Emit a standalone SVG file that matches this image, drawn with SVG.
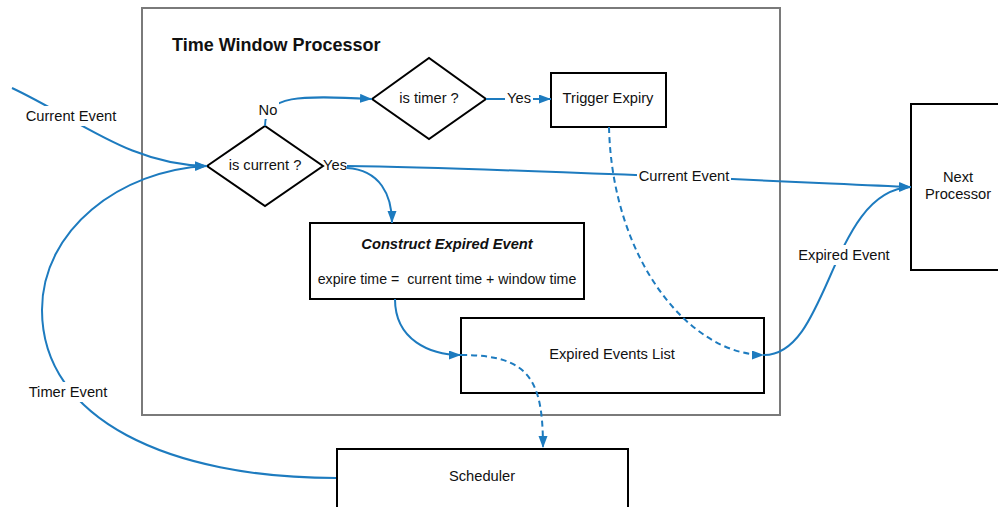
<svg xmlns="http://www.w3.org/2000/svg" width="998" height="507" viewBox="0 0 998 507">
  <style>
    .frame { fill: none; stroke: #7a7a7a; stroke-width: 2; }
    .box { fill: #ffffff; stroke: #000000; stroke-width: 2; }
    .flow { fill: none; stroke: #1d7bbf; stroke-width: 2; }
    .dash { stroke-dasharray: 6 4; }
    .lbl-bg { fill: #ffffff; }
    text { font-family: "Liberation Sans", Arial, sans-serif; font-size: 14.7px; fill: #111111; text-anchor: middle; dominant-baseline: central; }
    .title { font-size: 18px; font-weight: bold; text-anchor: start; }
    .bi { font-weight: bold; font-style: italic; }
    .pre { white-space: pre; font-size: 14.2px; }
  </style>
  <defs>
    <marker id="arrow" markerUnits="userSpaceOnUse" markerWidth="13" markerHeight="10" refX="12" refY="4.5" orient="auto">
      <path d="M0,0 L12,4.5 L0,9 z" fill="#1d7bbf"/>
    </marker>
  </defs>

  <rect width="998" height="507" fill="#ffffff"/>

  <!-- processor frame -->
  <g id="time-window-processor">
    <rect class="frame" x="142" y="8" width="638" height="407"/>
    <text class="title" x="172" y="45">Time Window Processor</text>
  </g>

  <g id="is-current">
    <polygon class="box" points="207,166 265,126 323,166 265,206"/>
    <text x="265" y="165">is current ?</text>
  </g>

  <g id="is-timer">
    <polygon class="box" points="372,99 429,58 486,99 429,139"/>
    <text x="429" y="98">is timer ?</text>
  </g>

  <g id="trigger-expiry">
    <rect class="box" x="551" y="73" width="115" height="54"/>
    <text x="608" y="98">Trigger Expiry</text>
  </g>

  <g id="construct-expired-event">
    <rect class="box" x="310" y="223" width="274" height="76"/>
    <text class="bi" x="447" y="244">Construct Expired Event</text>
    <text class="pre" x="447" y="279">expire time =  current time + window time</text>
  </g>

  <g id="expired-events-list">
    <rect class="box" x="461" y="318" width="303" height="75"/>
    <text x="612" y="354">Expired Events List</text>
  </g>

  <g id="next-processor">
    <rect class="box" x="911" y="104" width="100" height="166"/>
    <text x="958" y="177">Next</text>
    <text x="958" y="194">Processor</text>
  </g>

  <g id="scheduler">
    <rect class="box" x="337" y="449" width="291" height="70"/>
    <text x="482" y="476">Scheduler</text>
  </g>

  <!-- connectors -->
  <g id="connectors">
    <path class="flow" d="M12,88 C80,120 130,165 207,166" marker-end="url(#arrow)"/>
    <path class="flow" d="M336,478 C170,478 42,420 42,310 C42,230 120,170 207,166" marker-end="url(#arrow)"/>
    <path class="flow" d="M265,126 C265,95 300,95 372,99" marker-end="url(#arrow)"/>
    <path class="flow" d="M486,99 L551,99" marker-end="url(#arrow)"/>
    <path class="flow" d="M347,166 C500,168 750,180 911,187" marker-end="url(#arrow)"/>
    <path class="flow" d="M347,168 C380,170 392,195 392,223" marker-end="url(#arrow)"/>
    <path class="flow" d="M395,299 C395,340 430,355 461,355" marker-end="url(#arrow)"/>
    <path class="flow dash" d="M461,355 C530,355 543,380 543,448" marker-end="url(#arrow)"/>
    <path class="flow dash" d="M609,127 C612,260 690,355 764,355" marker-end="url(#arrow)"/>
    <path class="flow" d="M764,355 C830,355 830,190 911,187" marker-end="url(#arrow)"/>

    <!-- connector labels -->
    <rect class="lbl-bg" x="24" y="106" width="94" height="20"/>
    <text x="71" y="116">Current Event</text>
    <rect class="lbl-bg" x="257" y="101" width="22" height="18"/>
    <text x="268" y="110">No</text>
    <rect class="lbl-bg" x="505" y="90" width="28" height="17"/>
    <text x="519" y="98">Yes</text>
    <text x="335" y="165">Yes</text>
    <rect class="lbl-bg" x="637" y="167" width="94" height="18"/>
    <text x="684" y="176">Current Event</text>
    <rect class="lbl-bg" x="796" y="245" width="96" height="20"/>
    <text x="844" y="255">Expired Event</text>
    <rect class="lbl-bg" x="27" y="382" width="82" height="20"/>
    <text x="68" y="392">Timer Event</text>
  </g>
</svg>
